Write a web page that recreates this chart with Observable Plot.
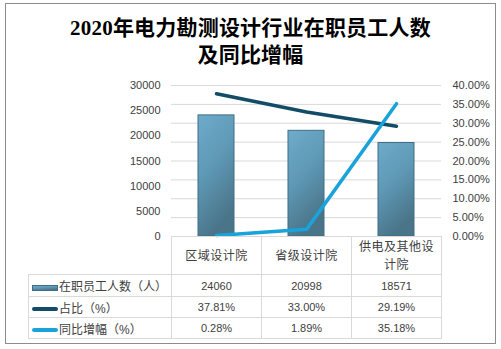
<!DOCTYPE html>
<html><head><meta charset="utf-8">
<script src="https://cdn.jsdelivr.net/npm/d3@7"></script>
<script src="https://cdn.jsdelivr.net/npm/@observablehq/plot@0.6"></script>
<style>
html,body{margin:0;padding:0;background:#fff;}
#wrap{position:relative;width:501px;height:349px;overflow:hidden;font-family:"Liberation Sans","Noto Sans CJK SC",sans-serif;color:#404040;}
#border{position:absolute;left:5px;top:3px;width:491px;height:341px;border:1px solid #8c8c8c;box-sizing:border-box;}
#title{position:absolute;left:0;width:501px;top:15px;text-align:center;font-family:"Liberation Serif","Noto Sans CJK SC",serif;font-weight:bold;font-size:21px;line-height:27px;letter-spacing:0.2px;color:#000;}
#chart{position:absolute;left:0;top:0;}
#tbl{position:absolute;left:28px;top:236px;border-collapse:collapse;table-layout:fixed;font-size:11px;}
#tbl td{border:1px solid #d9d9d9;padding:0;text-align:center;vertical-align:middle;}
#tbl td.blank{border-left:none;border-top:none;border-bottom:1px solid #d9d9d9;}
#tbl td.hdr{font-size:12px;letter-spacing:0.5px;padding:0 7px;line-height:18px;}
#tbl td.lab{text-align:left;font-size:12px;white-space:nowrap;padding-left:3px;}
#tbl td.lab svg{vertical-align:middle;margin-right:1px;}
</style></head>
<body>
<div id="wrap">
  <div id="border"></div>
  <div id="title">2020年电力勘测设计行业在职员工人数<br>及同比增幅</div>
  <div id="chart"></div>
  <table id="tbl"></table>
</div>
<script>
const categories = ["区域设计院", "省级设计院", "供电及其他设计院"];
const employees = [24060, 20998, 18571];
const share = [37.81, 33.00, 29.19];
const yoy = [0.28, 1.89, 35.18];
const leftTicks = [0, 5000, 10000, 15000, 20000, 25000, 30000];
const rightTicks = [0, 5, 10, 15, 20, 25, 30, 35, 40];
const seriesNames = ["在职员工人数（人）", "占比（%）", "同比增幅（%）"];

const darkLine = "#124c66";
const lightLine = "#1aa3da";
const scaleR = 30000 / 40;

const data = categories.map((c, i) => ({cat: c, emp: employees[i], share: share[i], yoy: yoy[i]}));

const chart = Plot.plot({
  width: 501, height: 349,
  marginTop: 85, marginBottom: 113, marginLeft: 171, marginRight: 60,
  style: {background: "transparent", fontFamily: "Liberation Sans, Noto Sans CJK SC, sans-serif", fontSize: "11px", color: "#404040"},
  x: {domain: categories, padding: 0, axis: null},
  y: {domain: [0, 30000], ticks: leftTicks, tickSize: 0, tickPadding: 11, tickFormat: d => String(d), label: null},
  marks: [
    Plot.ruleY(rightTicks, {y: d => d * scaleR, stroke: "#d9d9d9"}),
    Plot.barY(data, {x: "cat", y: "emp", fill: "url(#barGrad)", stroke: "#3f6f86", strokeWidth: 1, insetLeft: 27, insetRight: 27}),
    Plot.line(data, {x: "cat", y: d => d.share * scaleR, stroke: darkLine, strokeWidth: 3.5}),
    Plot.line(data, {x: "cat", y: d => d.yoy * scaleR, stroke: lightLine, strokeWidth: 3.5}),
    Plot.text(rightTicks, {y: d => d * scaleR, text: d => d.toFixed(2) + "%", frameAnchor: "right", textAnchor: "start", dx: 11, fill: "#404040"})
  ]
});
d3.select(chart).insert("defs", ":first-child").html(
  `<linearGradient id="barGrad" x1="0" y1="0" x2="0.35" y2="1">
     <stop offset="0" stop-color="#6eaccb"/>
     <stop offset="0.5" stop-color="#5e98b5"/>
     <stop offset="1" stop-color="#4a7589"/>
   </linearGradient>`);
document.getElementById("chart").appendChild(chart);

// data table
const tbl = d3.select("#tbl");
const cg = tbl.append("colgroup");
[143, 90, 90, 90].forEach(w => cg.append("col").style("width", w + "px"));
const hr = tbl.append("tr").style("height", "38px");
hr.append("td").attr("class", "blank");
categories.forEach(c => hr.append("td").attr("class", "hdr").text(c));

const keys = [
  `<svg width="26" height="8"><rect x="0.5" y="1.5" width="25" height="5" fill="url(#barGrad)" stroke="#3f6f86"/></svg>`,
  `<svg width="26" height="8"><line x1="2" y1="4" x2="24" y2="4" stroke="${darkLine}" stroke-width="4" stroke-linecap="round"/></svg>`,
  `<svg width="26" height="8"><line x1="2" y1="4" x2="24" y2="4" stroke="${lightLine}" stroke-width="4" stroke-linecap="round"/></svg>`
];
const rows = [
  employees.map(v => String(v)),
  share.map(v => v.toFixed(2) + "%"),
  yoy.map(v => v.toFixed(2) + "%")
];
const rowH = [22, 21, 21];
rows.forEach((r, i) => {
  const tr = tbl.append("tr").style("height", rowH[i] + "px");
  tr.append("td").attr("class", "lab").html(keys[i] + seriesNames[i]);
  r.forEach(v => tr.append("td").text(v));
});
</script>
</body></html>
